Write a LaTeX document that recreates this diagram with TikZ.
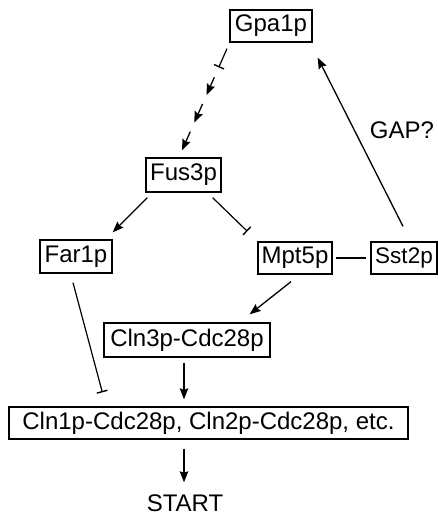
\documentclass[tikz,border=0pt]{standalone}
\usepackage{fontspec}
\setmainfont{Liberation Sans}
\usetikzlibrary{arrows.meta,calc}
\begin{document}
\begin{tikzpicture}[x=1pt,y=-1pt,
  every node/.style={font=\fontsize{24}{28}\selectfont},
  pbox/.style={draw,line width=1.3pt,inner sep=0pt,minimum height=32pt},
  act/.style={line width=1.3pt,-{Stealth[length=11pt,width=8.5pt,inset=1.5pt]}},
  inh/.style={line width=1.2pt,-{Bar[width=11pt,line width=1.4pt]}},
  plain/.style={line width=1.2pt}]
\clip (0,0) rectangle (438,516);
\fill[white] (0,0) rectangle (438,516);
\node[pbox,minimum width=82pt] (gpa) at (271,26) {Gpa1p};
\node[pbox,minimum width=75pt,minimum height=34pt] (fus) at (183.5,175) {Fus3p};
\node[pbox,minimum width=72pt,minimum height=33pt] (far) at (76,256.5) {Far1p};
\node[pbox,minimum width=74pt] (mpt) at (295,258) {Mpt5p};
\node[pbox,minimum width=66pt,font=\fontsize{22.5}{26}\selectfont] (sst) at (404,258) {Sst2p};
\node[pbox,minimum width=166pt,minimum height=34pt] (cln3) at (187,340) {Cln3p-Cdc28p};
\node[pbox,minimum width=399pt] (cln1) at (208.5,423) {Cln1p-Cdc28p, Cln2p-Cdc28p, etc.};
\node[inner sep=2pt] (start) at (185,503) {START};
\node[inner sep=0pt] (gap) at (402,130) {GAP?};
% dashed chain Gpa1p -> Fus3p
\coordinate (p0) at ([xshift=-44pt,yshift=-6pt]gpa.south);
\coordinate (p1) at ([xshift=-1.5pt,yshift=7pt]fus.north);
\draw[inh] (p0) -- ($(p0)!0.184!(p1)$);
\draw[act] ($(p0)!0.282!(p1)$) -- ($(p0)!0.456!(p1)$);
\draw[act] ($(p0)!0.544!(p1)$) -- ($(p0)!0.728!(p1)$);
\draw[act] ($(p0)!0.816!(p1)$) -- (p1);
% other connectors
\draw[act] ([xshift=2pt,yshift=-5pt]fus.south west) -- ([yshift=7pt]far.north east);
\draw[inh] ([xshift=-9pt,yshift=-5pt]fus.south east) -- ([xshift=-10pt,yshift=10pt]mpt.north west);
\draw[plain] ([xshift=3pt]mpt.east) -- ([xshift=-4pt]sst.west);
\draw[act] ([xshift=-1pt,yshift=15pt]sst.north) -- ([xshift=5pt,yshift=-15pt]gpa.south east);
\draw[act] ([xshift=-4pt,yshift=-7pt]mpt.south) -- ([xshift=-21pt,yshift=8pt]cln3.north east);
\draw[act] ([xshift=-3pt,yshift=-5pt]cln3.south) -- ([xshift=-24.5pt,yshift=7pt]cln1.north);
\draw[inh] ([xshift=-3pt,yshift=-9pt]far.south) -- ([xshift=94pt,yshift=14pt]cln1.north west);
\draw[act] ([xshift=-24.5pt,yshift=-9pt]cln1.south) -- ([xshift=-1pt,yshift=10pt]start.north);
\end{tikzpicture}
\end{document}
